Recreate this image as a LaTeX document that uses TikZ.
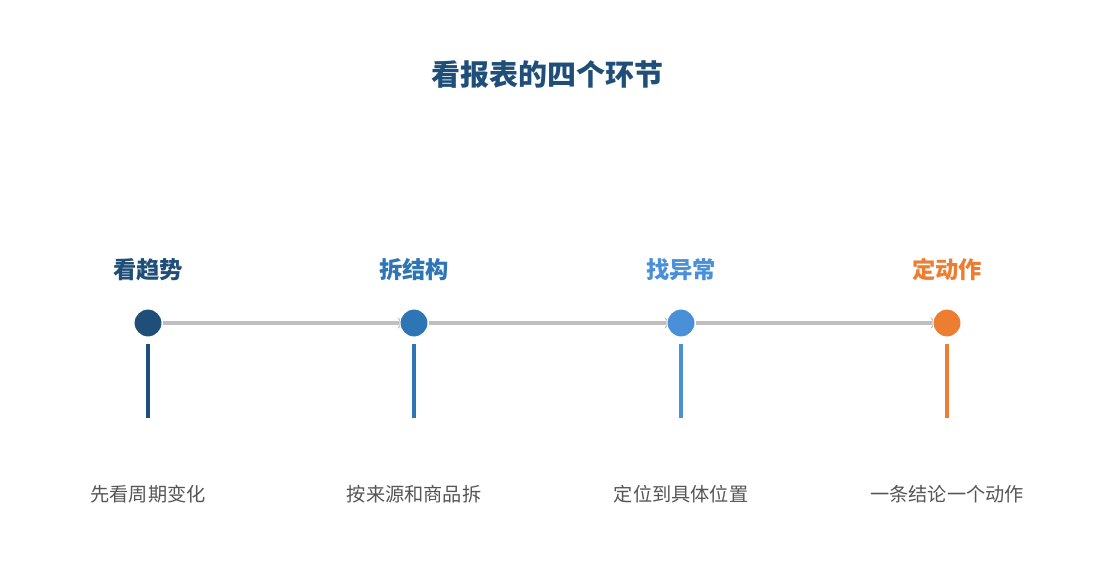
\documentclass[tikz,border=0pt]{standalone}
\usepackage{fontspec}
\setmainfont{Noto Sans CJK SC}
\usepackage{tikz}
\usetikzlibrary{arrows.meta, positioning, backgrounds}
\definecolor{darkblue}{HTML}{1F4E79}
\definecolor{midblue}{HTML}{2E75B6}
\definecolor{lightblue}{HTML}{4A90D9}
\definecolor{orangec}{HTML}{ED7D31}
\definecolor{linegray}{HTML}{BFBFBF}
\definecolor{textgray}{HTML}{555555}
\tikzstyle{stage} = [circle, inner sep=0, minimum size=28pt, draw=white, line width=1pt]
\tikzstyle{heading} = [font=\fontsize{23.3}{27}\selectfont\bfseries]
\tikzstyle{caption} = [font=\fontsize{19.2}{23}\selectfont, text=textgray]
\tikzstyle{link} = [linegray, line width=4pt, -{Stealth[length=9pt, width=11pt]}, shorten >=-7pt]
\tikzstyle{stem} = [line width=4pt]

\begin{document}
\begin{tikzpicture}[x=1pt, y=-1pt]
	\useasboundingbox (0, 0) rectangle (1095, 585);

	\node (Title) at (547, 75) {\fontsize{29}{33}\selectfont\bfseries\color{darkblue}看报表的四个环节};

	% the trend
	\node (Trend) [heading, text=darkblue] at (148, 270) {看趋势};
	\node (TrendDot) [stage, fill=darkblue] at (148, 323) {};
	\coordinate (TrendTop) at (148, 344);
	\coordinate (TrendEnd) at (148, 418);
	\draw [stem, darkblue] (TrendTop) -- (TrendEnd);
	\node (TrendText) [caption] at (148, 494) {先看周期变化};

	% the breakdown
	\node (Split) [heading, text=midblue] at (414, 270) {拆结构};
	\node (SplitDot) [stage, fill=midblue] at (414, 323) {};
	\coordinate (SplitTop) at (414, 344);
	\coordinate (SplitEnd) at (414, 418);
	\draw [stem, midblue] (SplitTop) -- (SplitEnd);
	\node (SplitText) [caption] at (414, 494) {按来源和商品拆};

	% the anomaly
	\node (Find) [heading, text=lightblue] at (681, 270) {找异常};
	\node (FindDot) [stage, fill=lightblue] at (681, 323) {};
	\coordinate (FindTop) at (681, 344);
	\coordinate (FindEnd) at (681, 418);
	\draw [stem, lightblue] (FindTop) -- (FindEnd);
	\node (FindText) [caption] at (681, 494) {定位到具体位置};

	% the action
	\node (Act) [heading, text=orangec] at (947, 270) {定动作};
	\node (ActDot) [stage, fill=orangec] at (947, 323) {};
	\coordinate (ActTop) at (947, 344);
	\coordinate (ActEnd) at (947, 418);
	\draw [stem, orangec] (ActTop) -- (ActEnd);
	\node (ActText) [caption] at (947, 494) {一条结论一个动作};

	% links behind the dots
	\begin{pgfonlayer}{background}
		\draw [link] (TrendDot) -- (SplitDot);
		\draw [link] (SplitDot) -- (FindDot);
		\draw [link] (FindDot) -- (ActDot);
	\end{pgfonlayer}
\end{tikzpicture}
\end{document}
